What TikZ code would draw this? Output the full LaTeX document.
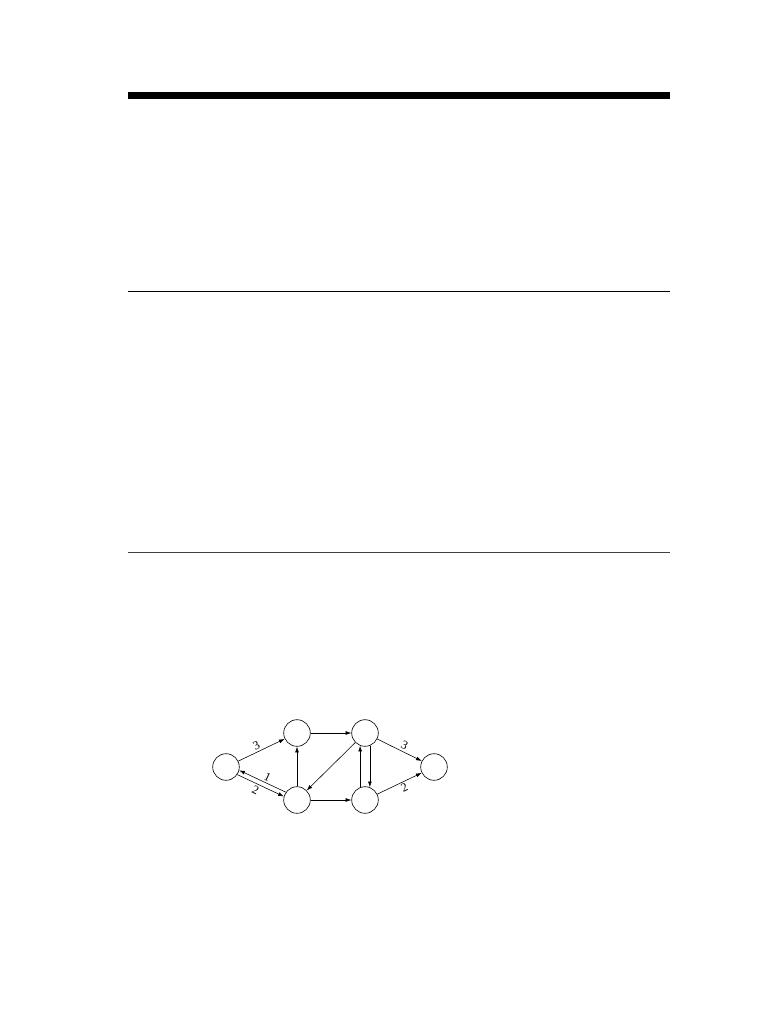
\documentclass[tikz,border=0pt]{standalone}
\usepackage{fontspec}
\setmainfont{Liberation Serif}
\usetikzlibrary{arrows.meta}
\begin{document}
\begin{tikzpicture}[x=0.7825pt,y=-0.7825pt,
  vertex/.style={circle,draw,line width=0.5pt,minimum size=20.8pt,inner sep=0pt},
  edge/.style={-{Latex[length=4.5pt,width=3pt]},line width=0.45pt},
  wlabel/.style={font=\fontsize{9.5}{11}\selectfont,sloped,inner sep=1.5pt}]
\useasboundingbox (0,0) rectangle (782,1012);
% rules
\coordinate (barL) at (128,95.5); \coordinate (barR) at (670,95.5);
\draw[line width=5.5pt] (barL) -- (barR);
\coordinate (r1L) at (128,291.5); \coordinate (r1R) at (670,291.5);
\draw[line width=0.7pt] (r1L) -- (r1R);
\coordinate (r2L) at (128,552.5); \coordinate (r2R) at (670,552.5);
\draw[line width=0.6pt,black!75] (r2L) -- (r2R);
% graph
\node[vertex] (A) at (226,767) {};
\node[vertex] (B) at (297,733) {};
\node[vertex] (C) at (365,733) {};
\node[vertex] (D) at (297,800) {};
\node[vertex] (E) at (365,800) {};
\node[vertex] (F) at (434,767) {};
\draw[edge] (A) -- node[wlabel,above,pos=0.45] {3} (B);
\draw[edge] (D.145.1) -- node[wlabel,above,pos=0.45] {1} (A.-14.9);
\draw[edge] (A.-34.9) -- node[wlabel,below,pos=0.45] {2} (D.165.1);
\draw[edge] (D) -- (B);
\draw[edge] (B) -- (C);
\draw[edge] (C) -- (D);
\draw[edge] (D) -- (E);
\draw[edge] (E.111) -- (C.249);
\draw[edge] (C.291) -- (E.69);
\draw[edge] (C) -- node[wlabel,above,pos=0.55] {3} (F);
\draw[edge] (E) -- node[wlabel,below,pos=0.55] {2} (F);
\end{tikzpicture}
\end{document}
